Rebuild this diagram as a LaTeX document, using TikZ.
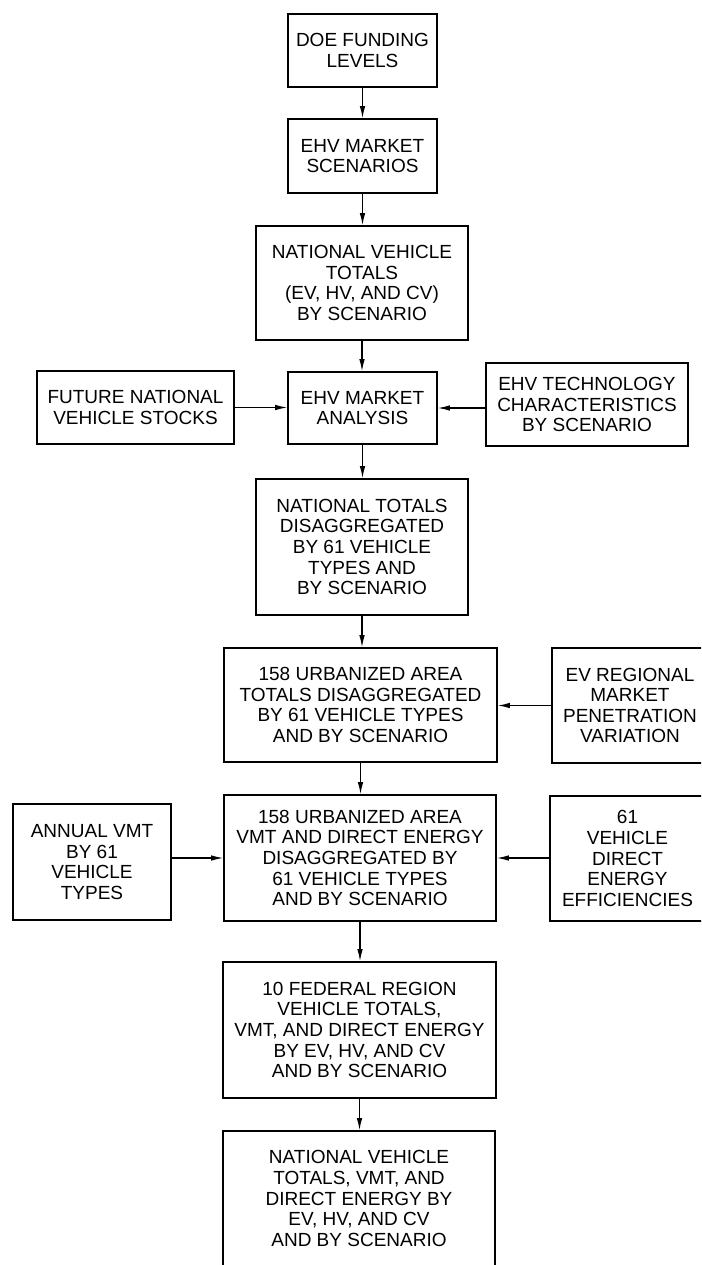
\documentclass[tikz,border=0pt]{standalone}
\usepackage{fontspec}
\setmainfont{Liberation Sans}
\usetikzlibrary{arrows.meta}

\begin{document}
\begin{tikzpicture}[x=1pt, y=-1pt,
  flowbox/.style={draw, line width=1.6pt, inner sep=0pt, align=center,
    font=\fontsize{19}{20.6}\selectfont},
  flowarrow/.style={line width=1.2pt, -{Latex[length=12pt, width=5.5pt]}}]
\clip (0,0) rectangle (701,1265);
% --- main column ---
\node[flowbox, minimum width=149, minimum height=73] (doe) at (362.5,50.5) {DOE FUNDING\\LEVELS};
\node[flowbox, minimum width=149, minimum height=74] (scen) at (362.5,156) {EHV MARKET\\SCENARIOS};
\node[flowbox, minimum width=212, minimum height=114] (natveh) at (362,283) {NATIONAL VEHICLE\\TOTALS\\(EV, HV, AND CV)\\BY SCENARIO};
\node[flowbox, minimum width=149, minimum height=72] (analysis) at (362.5,408) {EHV MARKET\\ANALYSIS};
\node[flowbox, minimum width=212, minimum height=136] (nattot) at (362,547) {NATIONAL TOTALS\\DISAGGREGATED\\BY 61 VEHICLE\\TYPES AND\\BY SCENARIO};
\node[flowbox, minimum width=273, minimum height=114] (uatot) at (360.5,705) {158 URBANIZED AREA\\TOTALS DISAGGREGATED\\BY 61 VEHICLE TYPES\\AND BY SCENARIO};
\node[flowbox, minimum width=272, minimum height=126] (uavmt) at (360,858) {158 URBANIZED AREA\\VMT AND DIRECT ENERGY\\DISAGGREGATED BY\\61 VEHICLE TYPES\\AND BY SCENARIO};
\node[flowbox, minimum width=273, minimum height=136] (fedreg) at (359.5,1030) {10 FEDERAL REGION\\VEHICLE TOTALS,\\VMT, AND DIRECT ENERGY\\BY EV, HV, AND CV\\AND BY SCENARIO};
\node[flowbox, minimum width=272, minimum height=135] (natfinal) at (359,1198.5) {NATIONAL VEHICLE\\TOTALS, VMT, AND\\DIRECT ENERGY BY\\EV, HV, AND CV\\AND BY SCENARIO};
% --- side inputs ---
\node[flowbox, minimum width=197, minimum height=73] (stocks) at (135.5,407.5) {FUTURE NATIONAL\\VEHICLE STOCKS};
\node[flowbox, minimum width=202, minimum height=83] (tech) at (587,404.5) {EHV TECHNOLOGY\\CHARACTERISTICS\\BY SCENARIO};
\node[flowbox, minimum width=156, minimum height=115] (evreg) at (630,705.5) {EV REGIONAL\\MARKET\\PENETRATION\\VARIATION};
\node[flowbox, minimum width=158, minimum height=116] (annual) at (92,862) {ANNUAL VMT\\BY 61\\VEHICLE\\TYPES};
\node[flowbox, minimum width=155, minimum height=125] (effic) at (627.5,858.5) {61\\VEHICLE\\DIRECT\\ENERGY\\EFFICIENCIES};
% --- connectors ---
\draw[flowarrow] (doe.south) -- (doe.south |- scen.north);
\draw[flowarrow] (scen.south) -- (scen.south |- natveh.north);
\draw[flowarrow] (natveh.south) -- (natveh.south |- analysis.north);
\draw[flowarrow] (analysis.south) -- (analysis.south |- nattot.north);
\draw[flowarrow] (nattot.south) -- (nattot.south |- uatot.north);
\draw[flowarrow] (uatot.south) -- (uatot.south |- uavmt.north);
\draw[flowarrow] (uavmt.south) -- (uavmt.south |- fedreg.north);
\draw[flowarrow] (fedreg.south) -- (fedreg.south |- natfinal.north);
\draw[flowarrow] (stocks.east) -- (stocks.east -| analysis.west);
\draw[flowarrow] (tech.west |- analysis.east) -- (analysis.east);
\draw[flowarrow] (evreg.west) -- (evreg.west -| uatot.east);
\draw[flowarrow] (annual.east |- uavmt.west) -- (uavmt.west);
\draw[flowarrow] (effic.west |- uavmt.east) -- (uavmt.east);
\end{tikzpicture}
\end{document}
